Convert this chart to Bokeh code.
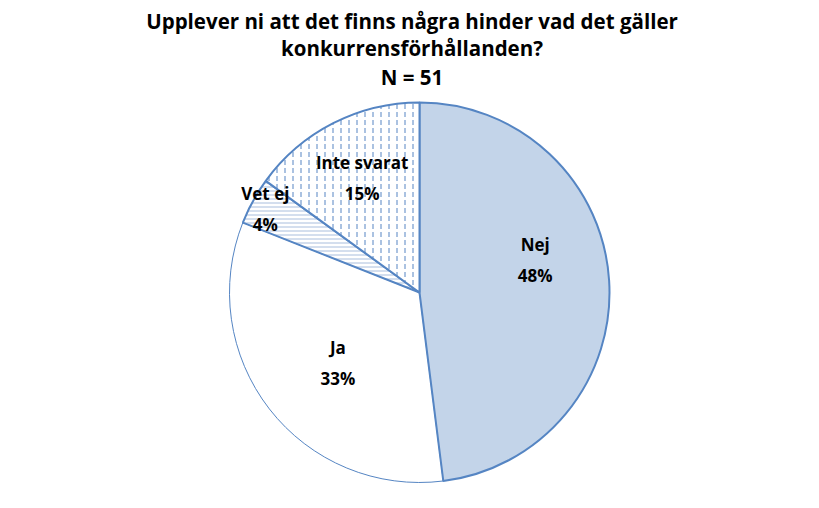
import math
from bokeh.plotting import figure
from bokeh.models import Range1d, ColumnDataSource
from bokeh.embed import file_html
from bokeh.resources import INLINE
from bokeh.core.properties import value

# ---- data ----
categories = ["Nej", "Ja", "Vet ej", "Inte svarat"]
percent = [48, 33, 4, 15]
title_lines = ["Upplever ni att det finns några hinder vad det gäller",
               "konkurrensförhållanden?",
               "N = 51"]

# ---- layout / style ----
W, H = 819, 508
cx, cy, R = 419, H - 292, 190
fills = ["#C3D4E9", "white", "white", "white"]
hatches = [" ", " ", "horizontal_line", "vertical_dash"]
hatch_colors = ["#5585C3", "#5585C3", "#A9BEDD", "#5585C3"]
hatch_scales = [6, 6, 4, 8]
line_widths = [2, 1, 2, 2]
label_f = [0.61, 0.57, 0.95, 0.70]
label_dx = [0, 4, 4, 3]
label_dy = [25, -4, -3, -4]   # upward shift (data units)
FONT = "Open Sans"

p = figure(width=W, height=H, x_range=Range1d(0, W), y_range=Range1d(0, H),
           output_backend="svg", toolbar_location=None, min_border=0)
p.axis.visible = False
p.grid.visible = False
p.outline_line_color = None
p.background_fill_color = "white"

total = sum(percent)
starts, ends, mids = [], [], []
cum = 0
for v in percent:
    a0 = math.pi / 2 - 2 * math.pi * cum / total
    cum += v
    a1 = math.pi / 2 - 2 * math.pi * cum / total
    starts.append(a0); ends.append(a1); mids.append((a0 + a1) / 2)

src = ColumnDataSource(dict(
    x=[cx] * 4, y=[cy] * 4, start=starts, end=ends, fill=fills,
    hatch=hatches, hcol=hatch_colors, hscale=hatch_scales, lw=line_widths))

order = [1, 0, 2, 3]
for i in order:
    s = ColumnDataSource({k: [v[i]] for k, v in src.data.items()})
    p.wedge(x="x", y="y", radius=R, start_angle="start", end_angle="end",
            direction="clock", fill_color="fill", line_color="#5585C3",
            line_width="lw", hatch_pattern="hatch", hatch_color="hcol",
            hatch_scale="hscale", hatch_weight=1, source=s)

lx = [cx + R * f * math.cos(m) + dx for f, m, dx in zip(label_f, mids, label_dx)]
ly = [cy + R * f * math.sin(m) + dy for f, m, dy in zip(label_f, mids, label_dy)]
labels = [f"{c}\n{v}%" for c, v in zip(categories, percent)]
p.text(x=lx, y=ly, text=labels, text_align="center", text_baseline="middle",
       text_font=value(FONT), text_font_style="bold", text_font_size="17px",
       text_line_height=1.35, text_color="black")

ty = [H - 20, H - 47, H - 76]
p.text(x=[W / 2 + 2] * 3, y=ty, text=title_lines, text_align="center",
       text_baseline="middle", text_font=value(FONT), text_font_style="bold",
       text_font_size="20.5px", text_color="black")

open("out.html", "w").write(file_html(p, INLINE))
